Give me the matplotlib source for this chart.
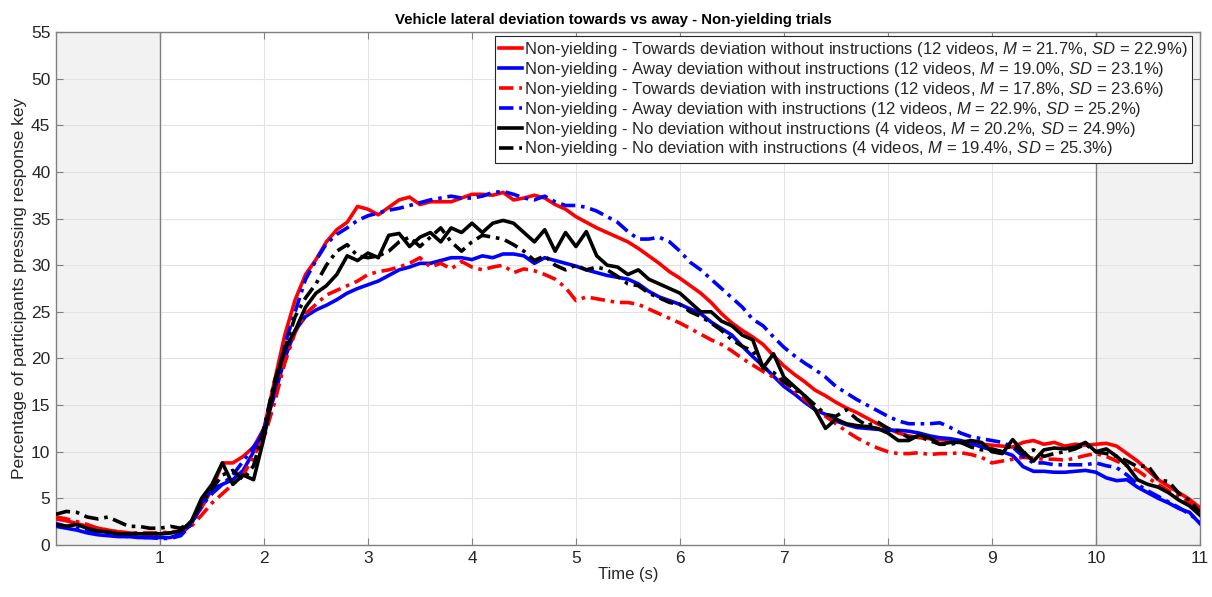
import numpy as np
import matplotlib
matplotlib.use("Agg")
import matplotlib.pyplot as plt

plt.rcParams['font.family'] = ['Liberation Sans', 'DejaVu Sans']
plt.rcParams['mathtext.fontset'] = 'custom'
plt.rcParams['mathtext.it'] = 'Liberation Sans:italic'
plt.rcParams['mathtext.rm'] = 'Liberation Sans'

time_s = np.round(np.arange(0, 11.001, 0.1), 1)

towards_no_instr = [
    2.8, 2.6, 2.3, 2.0, 1.8, 1.6, 1.4, 1.3, 1.2, 1.2,
    1.2, 1.3, 1.5, 2.5, 4.0, 6.0, 8.8, 8.8, 9.5, 10.5,
    12.5, 17.5, 22.5, 26.3, 29.0, 30.6, 32.5, 33.8, 34.6, 36.3,
    36.0, 35.4, 36.2, 37.0, 37.3, 36.5, 36.8, 36.8, 36.8, 37.2,
    37.6, 37.6, 37.5, 37.8, 37.0, 37.2, 37.5, 37.2, 36.5, 36.0,
    35.2, 34.6, 34.0, 33.5, 33.0, 32.5, 31.8, 31.0, 30.2, 29.3,
    28.6, 27.8, 27.0, 26.0, 24.8, 23.8, 23.0, 22.3, 21.5, 20.3,
    19.2, 18.3, 17.5, 16.6, 16.0, 15.3, 14.7, 14.2, 13.6, 13.0,
    12.5, 12.0, 11.7, 11.5, 11.4, 11.3, 11.2, 11.0, 10.9, 10.8,
    10.7, 10.6, 10.5, 11.0, 11.2, 10.8, 11.0, 10.6, 10.8, 10.7,
    10.8, 10.9, 10.6, 9.8, 9.0, 8.0, 7.0, 6.3, 5.6, 4.9,
    4.0]

away_no_instr = [
    2.0, 1.8, 1.6, 1.3, 1.1, 1.0, 0.9, 0.9, 0.8, 0.8,
    0.8, 0.8, 1.2, 2.2, 4.5, 6.0, 6.5, 7.0, 8.0, 10.0,
    12.5, 16.0, 20.0, 23.0, 24.5, 25.2, 25.7, 26.3, 27.0, 27.5,
    27.9, 28.3, 28.9, 29.5, 29.8, 30.2, 30.2, 30.5, 30.8, 30.8,
    30.6, 31.0, 30.8, 31.2, 31.2, 31.0, 30.2, 30.8, 30.5, 30.2,
    29.9, 29.5, 29.2, 28.9, 28.7, 28.5, 28.0, 27.2, 26.6, 26.2,
    25.8, 25.3, 24.8, 23.9, 23.2, 22.5, 21.3, 20.2, 19.2, 18.1,
    17.0, 16.2, 15.3, 14.5, 14.0, 13.3, 12.9, 12.6, 12.5, 12.4,
    12.3, 12.3, 12.2, 12.0, 11.7, 11.5, 11.4, 11.2, 10.9, 10.5,
    10.2, 10.0, 9.6, 8.4, 7.9, 7.9, 7.8, 7.8, 7.9, 8.0,
    7.8, 7.2, 6.9, 7.0, 6.2, 5.6, 5.0, 4.5, 3.9, 3.5,
    2.3]

towards_instr = [
    3.0, 2.8, 2.5, 2.2, 1.8, 1.6, 1.4, 1.3, 1.3, 1.3,
    1.3, 1.4, 1.5, 2.0, 3.2, 4.5, 5.5, 6.5, 7.5, 9.5,
    11.5, 15.2, 19.5, 22.8, 24.8, 25.8, 26.8, 27.3, 27.8, 28.3,
    29.0, 29.3, 29.5, 29.8, 30.2, 30.8, 29.8, 30.2, 29.6, 30.4,
    29.8, 29.5, 29.8, 30.0, 29.2, 29.6, 29.4, 29.0, 28.5, 27.6,
    26.2, 26.6, 26.4, 26.2, 26.0, 26.0, 25.8, 25.3, 24.8, 24.3,
    23.8, 23.2, 22.6, 22.0, 21.5, 20.8, 20.0, 19.3, 18.6, 18.0,
    17.5, 16.5, 15.6, 14.6, 13.8, 13.0, 12.2, 11.5, 10.9, 10.4,
    10.0, 9.8, 9.8, 9.9, 9.7, 9.8, 9.8, 9.9, 9.7, 9.4,
    8.8, 9.0, 9.2, 9.4, 9.3, 9.2, 9.2, 9.1, 9.3, 9.6,
    9.8, 9.5, 9.0, 8.5, 8.0, 7.2, 6.5, 5.8, 5.2, 4.5,
    3.5]

away_instr = [
    2.3, 2.0, 1.8, 1.5, 1.3, 1.1, 1.0, 0.9, 0.8, 0.8,
    0.7, 0.7, 1.0, 2.2, 4.2, 5.5, 6.5, 7.5, 9.0, 10.5,
    12.0, 16.5, 21.5, 25.0, 28.5, 30.5, 32.3, 33.3, 34.0, 34.8,
    35.3, 35.6, 35.9, 36.1, 36.4, 36.7, 37.0, 37.2, 37.4, 37.2,
    37.2, 37.4, 37.8, 37.9, 37.6, 37.2, 37.0, 37.4, 36.8, 36.4,
    36.4, 36.2, 35.8, 35.2, 34.6, 33.6, 32.8, 32.8, 33.0, 32.5,
    31.5, 30.3, 29.5, 28.5, 27.5, 26.5, 25.5, 24.2, 23.5, 22.3,
    21.2, 20.3, 19.5, 18.8, 18.0, 17.0, 16.3, 15.6, 15.0, 14.4,
    13.8, 13.3, 13.0, 13.0, 13.0, 13.1, 12.6, 12.0, 11.6, 11.4,
    11.2, 11.0, 10.5, 9.5, 8.8, 8.8, 8.6, 8.6, 8.6, 8.6,
    8.8, 8.5, 8.3, 7.5, 6.5, 5.8, 5.2, 4.6, 4.0, 3.3,
    2.5]

none_no_instr = [
    2.2, 2.0, 2.2, 1.8, 1.5, 1.4, 1.2, 1.2, 1.2, 1.2,
    1.2, 1.3, 1.5, 2.5, 5.0, 6.5, 8.8, 6.5, 7.5, 7.0,
    11.5, 17.0, 21.0, 23.0, 25.5, 27.0, 27.8, 29.0, 31.0, 30.5,
    31.3, 30.8, 33.2, 33.4, 32.0, 33.0, 33.5, 32.5, 34.0, 33.5,
    34.5, 33.5, 34.5, 34.8, 34.5, 33.5, 32.5, 33.8, 31.5, 33.5,
    32.0, 33.6, 31.0, 30.0, 29.8, 29.0, 29.5, 28.5, 28.0, 27.5,
    27.0, 26.0, 25.0, 25.0, 24.0, 23.5, 22.5, 22.0, 19.0, 20.5,
    18.0, 17.0, 16.0, 14.5, 12.5, 13.5, 13.0, 12.8, 12.7, 12.5,
    12.0, 11.2, 11.2, 11.8, 11.5, 10.8, 11.0, 11.0, 11.2, 11.0,
    10.0, 9.8, 11.3, 10.0, 9.0, 10.2, 10.4, 10.3, 10.5, 11.0,
    10.0, 10.3, 9.5, 8.5, 7.0, 6.5, 6.2, 5.6, 4.8, 4.2,
    3.2]

none_instr = [
    3.3, 3.6, 3.5, 3.0, 2.8, 3.0, 2.5, 2.0, 2.0, 1.8,
    1.8, 2.0, 1.8, 2.5, 4.5, 6.0, 7.5, 8.0, 7.0, 8.5,
    12.5, 17.5, 21.0, 24.5, 26.5, 28.0, 30.0, 31.5, 32.2, 31.0,
    30.8, 31.0, 31.5, 32.5, 33.0, 32.0, 33.0, 34.0, 32.5, 31.5,
    32.5, 33.2, 33.0, 32.8, 32.2, 31.5, 30.5, 31.0, 30.0, 29.5,
    30.0, 29.5, 29.8, 29.5, 28.8, 28.0, 27.8, 27.0, 26.5, 26.0,
    25.8, 25.0, 24.5, 23.8, 23.0, 22.0, 21.3, 20.8, 19.0, 18.5,
    17.5, 16.8, 16.0, 15.0, 14.0, 13.8, 14.5, 13.5, 12.8, 13.2,
    12.5, 12.2, 11.5, 11.6, 11.2, 10.8, 10.8, 11.0, 10.5, 10.2,
    10.3, 10.0, 10.8, 9.8, 10.2, 9.5, 9.8, 10.0, 10.3, 10.8,
    10.0, 9.8, 9.5, 9.0, 8.4, 8.5, 7.0, 6.8, 5.5, 4.8,
    3.5]

labels = [
    r"Non-yielding - Towards deviation without instructions (12 videos, $\it{M}$ = 21.7%, $\it{SD}$ = 22.9%)",
    r"Non-yielding - Away deviation without instructions (12 videos, $\it{M}$ = 19.0%, $\it{SD}$ = 23.1%)",
    r"Non-yielding - Towards deviation with instructions (12 videos, $\it{M}$ = 17.8%, $\it{SD}$ = 23.6%)",
    r"Non-yielding - Away deviation with instructions (12 videos, $\it{M}$ = 22.9%, $\it{SD}$ = 25.2%)",
    r"Non-yielding - No deviation without instructions (4 videos, $\it{M}$ = 20.2%, $\it{SD}$ = 24.9%)",
    r"Non-yielding - No deviation with instructions (4 videos, $\it{M}$ = 19.4%, $\it{SD}$ = 25.3%)",
]
series = [towards_no_instr, away_no_instr, towards_instr, away_instr, none_no_instr, none_instr]
colors = ['#ff0000', '#0000ff', '#ff0000', '#0000ff', '#000000', '#000000']
dashed = [False, False, True, True, False, True]

fig = plt.figure(figsize=(12.12, 5.97), dpi=100)
ax = fig.add_axes([0.0462, 0.0871, 0.9438, 0.8593])

ax.axvspan(0, 1, color='#f2f2f2', zorder=0, lw=0)
ax.axvspan(10, 11, color='#f2f2f2', zorder=0, lw=0)
ax.axvline(1, color='#808080', lw=1.0, zorder=1)
ax.axvline(10, color='#808080', lw=1.0, zorder=1)

for y, c, d, lab in zip(series, colors, dashed, labels):
    if d:
        ax.plot(time_s, y, color=c, lw=2.6, label=lab, dashes=(4, 1.6, 1, 1.6), zorder=3)
    else:
        ax.plot(time_s, y, color=c, lw=2.6, label=lab, zorder=3)

ax.set_xlim(0, 11)
ax.set_ylim(0, 55)
ax.set_xticks(range(1, 12))
ax.set_yticks(range(0, 56, 5))
ax.grid(True, color='#e3e3e3', lw=0.8, zorder=0)
ax.set_axisbelow(True)
ax.tick_params(direction='in', length=5, width=0.8, colors='#808080',
               labelcolor='#262626', labelsize=12.5, top=True, right=True, pad=4)
for s in ax.spines.values():
    s.set_color('#808080')
    s.set_linewidth(1.0)

ax.set_title("Vehicle lateral deviation towards vs away - Non-yielding trials",
             fontsize=10.8, fontweight='bold', color='#000000', pad=6, x=0.487)
ax.set_xlabel("Time (s)", fontsize=12, color='#262626', labelpad=1)
ax.set_ylabel("Percentage of participants pressing response key", fontsize=12.5,
              color='#262626', labelpad=3)

leg = ax.legend(loc='upper right', bbox_to_anchor=(0.993, 0.992), borderaxespad=0,
                fontsize=12, handlelength=1.4, handletextpad=0.1,
                labelspacing=0.05, borderpad=0.25, fancybox=False, framealpha=1,
                edgecolor='#262626')
leg.get_frame().set_linewidth(0.8)
for t in leg.get_texts():
    t.set_color('#262626')

fig.savefig("out.png", dpi=100)
